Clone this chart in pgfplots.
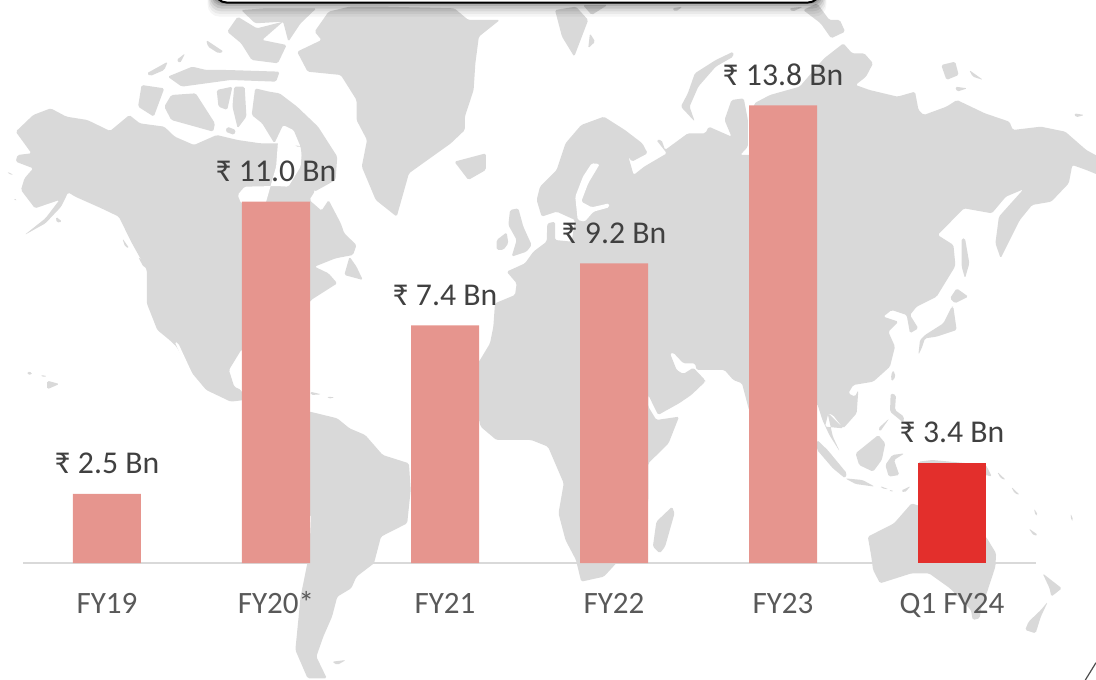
\documentclass[border=0pt]{standalone}
\usepackage{fontspec}
\setmainfont{Carlito}
\usepackage{pgfplots}
\pgfplotsset{compat=1.18}
\definecolor{mapg}{HTML}{D9D9D9}
\definecolor{barl}{HTML}{E6958E}
\definecolor{barr}{HTML}{E32F2C}
\definecolor{lab}{HTML}{404040}
\definecolor{tic}{HTML}{595959}
% coordinates of the zoomed views of the map
\def\Za#1#2{({(#1)*0.26215pt},{-(#2)*0.25pt})}
\def\Zb#1#2{({411pt+(#1)*0.26215pt},{-(#2)*0.25pt})}
\def\Zc#1#2{({(#1)*0.26215pt},{-255pt-(#2)*0.25pt})}
\def\Zd#1#2{({411pt+(#1)*0.26215pt},{-255pt-(#2)*0.25pt})}
\def\Ze#1#2{({345pt+(#1)*0.25pt},{-127.5pt-(#2)*0.25pt})}
\def\Zf#1#2{({480pt+(#1)*0.25pt},{-150pt-(#2)*0.25pt})}
\def\Zg#1#2{({607.5pt+(#1)*0.25pt},{-150pt-(#2)*0.25pt})}
\begin{document}
\begin{tikzpicture}
\path[use as bounding box] (0,0) rectangle (822pt,-510pt);
\begin{scope}
\clip (0,0) rectangle (822pt,-510pt);
\begin{scope}[fill=mapg,draw=none,line join=round,rounded corners=1.2pt]
% North America
\fill \Za{45}{395}--\Za{95}{345}--\Za{145}{325}--\Za{190}{350}--\Za{250}{360}--\Za{315}{393}--\Za{370}{345}--\Za{400}{370}--\Za{470}{380}--\Za{500}{410}--\Za{555}{435}--\Za{620}{405}--\Za{680}{420}--\Za{745}{430}--\Za{800}{430}--\Za{870}{440}--\Za{900}{520}--\Za{900}{575}--\Za{885}{600}--\Za{920}{632}--\Za{940}{600}--\Za{975}{670}--\Za{985}{700}--\Za{1020}{735}--\Za{1010}{765}--\Za{960}{775}--\Za{900}{800}--\Za{940}{820}--\Za{965}{850}--\Za{890}{900}--\Za{800}{1050}--\Za{730}{1030}--\Zc{690}{30}--\Zc{655}{90}--\Zc{670}{140}--\Zc{690}{150}--\Zc{700}{180}--\Zc{660}{185}--\Zc{590}{150}--\Zc{550}{100}--\Zc{505}{20}--\Zc{485}{0}--\Za{450}{990}--\Za{420}{910}--\Za{420}{810}--\Za{375}{725}--\Za{340}{650}--\Za{290}{625}--\Za{215}{590}--\Za{195}{577}--\Za{175}{620}--\Za{130}{670}--\Za{70}{705}--\Za{130}{655}--\Za{170}{600}--\Za{100}{625}--\Za{60}{570}--\Za{70}{535}--\Za{95}{505}--\Za{45}{485}--\Za{50}{465}--\Za{90}{460}--cycle;
% Hudson Bay
\fill[white] \Za{795}{430}--\Za{810}{378}--\Za{838}{395}--\Za{845}{440}--\Za{865}{440}--\Za{860}{500}--\Za{825}{560}--\Za{790}{558}--\Za{700}{560}--\Za{680}{585}--\Za{690}{610}--\Za{760}{610}--\Za{790}{500}--cycle;
\fill \Za{820}{558}--\Za{880}{560}--\Za{890}{610}--\Za{860}{610}--cycle;
% Gulf of California
\fill[white] \Zc{500}{5}--\Zc{510}{10}--\Zc{552}{105}--\Zc{540}{100}--cycle;
% Baffin and Arctic Canada
\fill \Za{720}{345}--\Za{730}{265}--\Za{770}{275}--\Za{800}{280}--\Za{850}{320}--\Za{910}{380}--\Za{965}{470}--\Za{960}{540}--\Za{900}{575}--\Za{870}{520}--\Za{860}{440}--\Za{840}{390}--\Za{810}{375}--\Za{785}{430}--\Za{750}{370}--cycle;
\fill \Za{405}{255}--\Za{470}{265}--\Za{440}{350}--\Za{395}{320}--cycle;
\fill \Za{470}{320}--\Za{490}{285}--\Za{560}{280}--\Za{615}{370}--\Za{610}{395}--\Za{490}{360}--cycle;
\fill \Za{620}{270}--\Za{665}{260}--\Za{650}{330}--\Za{625}{320}--cycle;
\fill \Za{670}{260}--\Za{700}{260}--\Za{705}{350}--\Za{680}{385}--\Za{665}{320}--cycle;
\fill \Za{650}{380}--\Za{675}{390}--\Za{670}{405}--\Za{645}{395}--cycle;
\fill \Za{420}{220}--\Za{480}{185}--\Za{470}{210}--\Za{430}{228}--cycle;
\fill \Za{480}{230}--\Za{550}{200}--\Za{590}{210}--\Za{650}{210}--\Za{800}{215}--\Za{790}{245}--\Za{660}{240}--\Za{520}{260}--cycle;
\fill \Za{505}{180}--\Za{530}{160}--\Za{515}{190}--cycle;
\fill \Za{590}{120}--\Za{640}{155}--\Za{625}{160}--\Za{595}{140}--cycle;
\fill \Za{650}{95}--\Za{680}{50}--\Za{735}{85}--\Za{810}{65}--\Za{750}{120}--\Za{820}{135}--\Za{795}{190}--\Za{720}{180}--\Za{690}{130}--cycle;
\fill \Za{690}{30}--\Za{760}{25}--\Za{905}{25}--\Za{860}{70}--\Za{825}{125}--\Za{810}{65}--\Za{730}{70}--cycle;
\fill \Za{350}{715}--\Za{370}{745}--\Za{358}{740}--cycle;
\fill \Za{395}{770}--\Za{435}{810}--\Za{410}{800}--cycle;
% Greenland
\fill \Za{1000}{20}--\Za{1100}{20}--\Za{1300}{25}--\Za{1340}{60}--\Za{1430}{60}--\Za{1370}{110}--\Za{1360}{190}--\Za{1355}{270}--\Za{1330}{350}--\Za{1330}{390}--\Za{1290}{430}--\Za{1170}{520}--\Za{1135}{650}--\Za{1075}{600}--\Za{1035}{500}--\Za{1050}{420}--\Za{1020}{360}--\Za{1020}{300}--\Za{975}{225}--\Za{880}{215}--\Za{850}{155}--\Za{920}{120}--\Za{900}{95}--\Za{940}{35}--cycle;
% Iceland, Newfoundland, Britain, Ireland
\fill \Za{1300}{485}--\Za{1390}{460}--\Za{1390}{510}--\Za{1340}{540}--cycle;
\fill \Za{1000}{770}--\Za{1020}{800}--\Za{1038}{840}--\Za{985}{825}--cycle;
\fill \Ze{150}{120}--\Ze{175}{115}--\Ze{190}{170}--\Ze{215}{225}--\Ze{200}{245}--\Ze{155}{260}--\Ze{170}{210}--\Ze{145}{165}--cycle;
\fill \Ze{110}{210}--\Ze{140}{187}--\Ze{145}{220}--\Ze{130}{240}--\Ze{110}{240}--cycle;
% Afro-Eurasia
\fill \Ze{57}{575}--\Ze{90}{520}--\Ze{100}{470}--\Ze{105}{400}--\Ze{165}{375}--\Ze{170}{340}--\Ze{140}{305}--\Ze{195}{280}--\Ze{220}{245}--\Ze{260}{215}--\Ze{262}{160}--\Ze{285}{155}--\Ze{285}{210}--\Ze{335}{215}--\Ze{345}{150}--\Ze{290}{125}--\Ze{245}{140}--\Ze{230}{90}--\Ze{240}{50}--\Ze{290}{0}--\Zb{50}{430}--\Zb{95}{375}--\Zb{160}{350}--\Zb{220}{390}--\Zb{270}{430}--\Zb{285}{460}--\Zb{240}{485}--\Zb{230}{470}--\Zb{245}{525}--\Zb{275}{500}--\Zb{340}{460}--\Zb{310}{420}--\Zb{325}{420}--\Zb{335}{450}--\Zb{400}{400}--\Zb{450}{400}--\Zb{460}{380}--\Zb{525}{410}--\Zb{505}{360}--\Zb{525}{300}--\Zb{560}{295}--\Zb{572}{360}--\Zb{572}{440}--\Zb{550}{465}--\Zb{590}{465}--\Zb{590}{310}--\Zb{635}{285}--\Zb{720}{260}--\Zb{790}{175}--\Zb{845}{130}--\Zb{870}{160}--\Zb{905}{160}--\Zb{930}{190}--\Zb{910}{230}--\Zb{880}{255}--\Zb{920}{270}--\Zb{1000}{290}--\Zb{1050}{275}--\Zb{1060}{330}--\Zb{1075}{345}--\Zb{1140}{320}--\Zb{1170}{300}--\Zb{1250}{340}--\Zb{1320}{365}--\Zb{1330}{390}--\Zb{1410}{380}--\Zb{1480}{395}--\Zb{1540}{450}--\Zb{1575}{470}--\Zb{1575}{525}--\Zb{1540}{510}--\Zb{1500}{495}--\Zb{1490}{550}--\Zb{1440}{605}--\Zb{1385}{615}--\Zb{1350}{660}--\Zb{1295}{775}--\Zb{1280}{730}--\Zb{1290}{650}--\Zb{1360}{568}--\Zb{1310}{590}--\Zb{1270}{640}--\Zb{1190}{625}--\Zb{1115}{705}--\Zb{1160}{735}--\Zb{1165}{790}--\Zg{435}{200}--\Zg{380}{290}--\Zg{320}{320}--\Zg{300}{345}--\Zg{325}{385}--\Zg{300}{400}--\Zg{290}{345}--\Zg{245}{330}--\Zg{220}{350}--\Zg{265}{365}--\Zg{235}{395}--\Zg{255}{440}--\Zg{240}{500}--\Zg{190}{545}--\Zg{130}{555}--\Zg{115}{580}--\Zg{135}{590}--\Zg{145}{570}--\Zg{140}{640}--\Zg{100}{685}--\Zg{55}{640}--\Zg{45}{680}--\Zd{845}{265}--\Zd{815}{225}--\Zd{800}{220}--\Zd{815}{290}--\Zd{835}{335}--\Zd{805}{285}--\Zd{785}{240}--\Zd{770}{190}--\Zd{700}{300}--\Zd{640}{300}--\Zd{575}{210}--\Zd{555}{130}--\Zd{530}{120}--\Zd{505}{90}--\Zf{250}{510}--\Zf{170}{510}--\Zf{165}{490}--\Zf{130}{490}--\Zf{100}{458}--\Zf{90}{460}--\Zf{110}{510}--\Zf{130}{522}--\Zf{160}{503}--\Zf{195}{540}--\Zd{450}{125}--\Zd{410}{165}--\Zd{375}{190}--\Zd{315}{225}--\Zd{287}{165}--\Zd{287}{200}--\Zd{310}{240}--\Zd{375}{230}--\Zd{345}{310}--\Zd{287}{370}--\Zd{287}{480}--\Zd{270}{560}--\Zd{195}{670}--\Zd{160}{710}--\Zd{95}{725}--\Zd{80}{660}--\Zd{50}{600}--\Zd{30}{520}--\Zd{45}{430}--\Zd{0}{320}--\Zc{1520}{300}--\Zc{1420}{300}--\Zc{1375}{260}--\Zc{1371}{240}--\Zc{1300}{150}--cycle;
% Baltic
\fill[white] \Zb{85}{660}--\Zb{78}{590}--\Zb{100}{530}--\Zb{125}{490}--\Zb{148}{492}--\Zb{115}{550}--\Zb{95}{605}--\Zb{125}{622}--\Zb{175}{610}--\Zb{175}{622}--\Zb{130}{635}--\Zb{105}{665}--cycle;
% Arctic islands of Eurasia
\fill \Zb{530}{155}--\Zb{480}{180}--\Zb{420}{220}--\Zb{400}{280}--\Zb{380}{320}--\Zb{420}{365}--\Zb{405}{320}--\Zb{430}{260}--\Zb{480}{200}--\Zb{530}{170}--cycle;
\fill \Zb{20}{30}--\Zb{80}{20}--\Zb{115}{60}--\Zb{75}{170}--\Zb{40}{110}--cycle;
\fill \Zb{120}{100}--\Zb{135}{125}--\Zb{115}{145}--cycle;
\fill \Zb{100}{15}--\Zb{170}{15}--\Zb{125}{45}--cycle;
\fill \Zb{355}{25}--\Zb{385}{20}--\Zb{365}{35}--cycle;
\fill \Zb{690}{25}--\Zb{730}{20}--\Zb{700}{35}--cycle;
\fill \Zb{730}{30}--\Zb{770}{10}--\Zb{805}{60}--\Zb{835}{60}--\Zb{850}{95}--\Zb{810}{115}--\Zb{780}{70}--cycle;
\fill \Zb{1125}{195}--\Zb{1165}{185}--\Zb{1175}{225}--\Zb{1140}{240}--cycle;
\fill \Zb{1205}{210}--\Zb{1245}{240}--\Zb{1215}{230}--cycle;
\fill \Zb{1165}{260}--\Zb{1200}{265}--\Zb{1170}{275}--cycle;
\fill \Zb{1505}{340}--\Zb{1535}{345}--\Zb{1510}{352}--cycle;
% Japan and the east
\fill \Zg{440}{265}--\Zg{475}{290}--\Zg{435}{310}--\Zg{420}{295}--cycle;
\fill \Zg{430}{320}--\Zg{440}{390}--\Zg{380}{410}--\Zg{345}{415}--\Zg{335}{445}--\Zg{325}{465}--\Zg{330}{420}--\Zg{345}{405}--\Zg{400}{370}--\Zg{425}{320}--cycle;
\fill \Zg{455}{115}--\Zg{465}{115}--\Zg{478}{190}--\Zg{465}{235}--\Zg{455}{200}--cycle;
\fill \Zg{250}{510}--\Zg{257}{530}--\Zg{245}{545}--\Zg{243}{525}--cycle;
\fill \Zg{242}{580}--\Zg{258}{585}--\Zg{255}{630}--\Zg{282}{650}--\Zg{280}{668}--\Zg{240}{635}--cycle;
\fill \Zg{205}{685}--\Zg{238}{655}--\Zg{210}{695}--cycle;
% South-east Asia
\fill \Zd{770}{300}--\Zd{800}{330}--\Zd{855}{400}--\Zd{850}{415}--\Zd{815}{385}--\Zd{770}{330}--cycle;
\fill \Zd{850}{415}--\Zd{900}{420}--\Zd{935}{440}--\Zd{880}{432}--cycle;
\fill \Zd{880}{340}--\Zd{945}{285}--\Zd{965}{310}--\Zd{955}{360}--\Zd{930}{395}--\Zd{890}{375}--cycle;
\fill \Zd{965}{375}--\Zd{985}{345}--\Zd{1020}{340}--\Zd{990}{360}--\Zd{1005}{405}--\Zd{975}{410}--cycle;
\fill \Zd{950}{438}--\Zd{975}{448}--\Zd{955}{445}--cycle;
\fill \Zd{975}{450}--\Zd{990}{452}--\Zd{980}{456}--cycle;
\fill \Zd{1010}{452}--\Zd{1038}{438}--\Zd{1020}{458}--cycle;
\fill \Zd{1060}{365}--\Zd{1100}{360}--\Zd{1253}{375}--\Zd{1270}{410}--\Zd{1253}{405}--\Zd{1060}{405}--cycle;
\fill \Zd{1285}{395}--\Zd{1310}{420}--\Zd{1295}{415}--cycle;
\fill \Zd{1325}{440}--\Zd{1350}{465}--\Zd{1335}{460}--cycle;
\fill \Zd{1390}{505}--\Zd{1402}{525}--\Zd{1395}{527}--cycle;
\fill \Zd{1495}{520}--\Zd{1503}{540}--\Zd{1497}{542}--cycle;
\fill \Zd{1375}{565}--\Zd{1402}{585}--\Zd{1390}{587}--cycle;
% Oceania and Madagascar
\fill \Zd{915}{590}--\Zd{990}{550}--\Zd{1040}{490}--\Zd{1070}{500}--\Zd{1253}{590}--\Zd{1282}{640}--\Zd{1280}{680}--\Zd{1255}{760}--\Zd{1240}{800}--\Zd{1235}{835}--\Zd{1215}{840}--\Zd{1210}{810}--\Zd{1150}{745}--\Zd{1090}{700}--\Zd{1040}{700}--\Zd{950}{730}--\Zd{930}{690}--\Zd{925}{650}--cycle;
\fill \Zd{1415}{700}--\Zd{1470}{745}--\Zd{1440}{770}--\Zd{1435}{745}--cycle;
\fill \Zd{1430}{785}--\Zd{1410}{830}--\Zd{1395}{880}--\Zd{1365}{870}--\Zd{1375}{845}--\Zd{1410}{810}--cycle;
\fill \Zd{355}{500}--\Zd{362}{520}--\Zd{335}{620}--\Zd{320}{640}--\Zd{300}{620}--\Zd{310}{545}--cycle;
% South America and the Americas' islands
\fill \Zc{887}{215}--\Zc{965}{235}--\Zc{1000}{265}--\Zc{1045}{285}--\Zc{1095}{345}--\Zc{1170}{370}--\Zc{1175}{450}--\Zc{1165}{550}--\Zc{1090}{590}--\Zc{1070}{670}--\Zc{1020}{710}--\Zc{1005}{745}--\Zc{965}{770}--\Zc{950}{830}--\Zc{925}{890}--\Zc{905}{950}--\Zc{935}{1015}--\Zc{880}{1015}--\Zc{845}{930}--\Zc{860}{770}--\Zc{885}{640}--\Zc{890}{525}--\Zc{800}{500}--\Zc{760}{330}--\Zc{780}{215}--cycle;
\fill \Zc{950}{965}--\Zc{990}{960}--\Zc{965}{975}--cycle;
\fill \Zc{887}{155}--\Zc{920}{163}--\Zc{890}{165}--cycle;
\fill \Zc{935}{170}--\Zc{958}{172}--\Zc{940}{176}--cycle;
\fill \Zc{78}{95}--\Zc{92}{97}--\Zc{90}{105}--\Zc{78}{103}--cycle;
\fill \Zc{115}{105}--\Zc{135}{108}--\Zc{125}{112}--cycle;
\fill \Zc{135}{122}--\Zc{170}{132}--\Zc{135}{148}--cycle;
\fill \Za{20}{515}--\Za{40}{525}--\Za{25}{522}--cycle;
\fill \Za{40}{595}--\Za{50}{600}--\Za{42}{602}--cycle;
\fill \Za{160}{650}--\Za{178}{665}--\Za{162}{668}--cycle;
\end{scope}
% shadow and box at the top
\foreach \s/\o in {11/0.04,9/0.05,7/0.07,5/0.09,3/0.11,1.5/0.13}
  \fill[black,opacity=\o,rounded corners=9pt] ({159pt-\s*0.3pt},20pt) rectangle ({616.5pt+\s*0.3pt},{-1.5pt-\s*1pt});
\fill[white,draw=black,line width=1.5pt,rounded corners=9pt] (161pt,20pt) rectangle (615pt,-1.9pt);
\draw[black!70,line width=0.9pt] (822pt,-497pt)--(814pt,-510pt);
\end{scope}
\begin{axis}[
  at={(17.25pt,-422.25pt)},anchor=south west,
  scale only axis,width=759.75pt,height=374.25pt,
  xmin=-0.497,xmax=5.497,ymin=0.49,ymax=15,
  axis y line=none,axis x line=bottom,
  axis line style={-,draw=mapg,line width=1.2pt},
  ybar,bar shift=0pt,bar width=51pt,clip=false,
  xtick={0,1,2,3,4,5},
  xticklabels={FY19,FY20*,FY21,FY22,FY23,Q1 FY24},
  major tick length=0pt,
  xticklabel style={font=\fontsize{23.3pt}{24pt}\selectfont,text=tic,anchor=base,yshift=-38pt,inner sep=0pt},
  point meta=explicit symbolic,
  nodes near coords,
  every node near coord/.append style={font=\fontsize{23.8pt}{25pt}\selectfont,text=lab,anchor=base,yshift=15pt,inner sep=0pt},
]
\addplot[fill=barl,draw=none] coordinates {(0,2.5)[₹ 2.5 Bn] (1,11.0)[₹ 11.0 Bn] (2,7.4)[₹ 7.4 Bn] (3,9.2)[₹ 9.2 Bn] (4,13.8)[₹ 13.8 Bn]};
\addplot[fill=barr,draw=none] coordinates {(5,3.4)[₹ 3.4 Bn]};
\end{axis}
\end{tikzpicture}
\end{document}
